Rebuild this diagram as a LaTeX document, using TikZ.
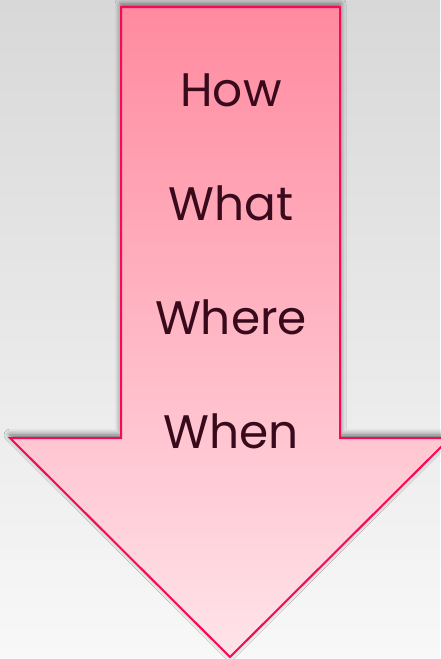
\documentclass[tikz,border=0pt]{standalone}
\usepackage{fontspec}
\setmainfont{Poppins}
\usetikzlibrary{shadows.blur}
\definecolor{bgtop}{HTML}{D8D8D8}
\definecolor{bgbottom}{HTML}{F8F8F8}
\definecolor{arrowline}{HTML}{F50A58}
\definecolor{arrowtop}{HTML}{FF8A9F}
\definecolor{arrowbottom}{HTML}{FFE4EA}
\definecolor{wordcol}{HTML}{380A1C}
\tikzset{
  downarrow/.style={draw=arrowline, line width=2pt, line join=miter,
    top color=arrowtop, bottom color=arrowbottom,
    blur shadow={shadow xshift=0pt, shadow yshift=3pt, shadow blur radius=6pt, shadow opacity=60}},
  word/.style={text=wordcol, anchor=base, font=\fontsize{47}{47}\selectfont},
}

\begin{document}
\begin{tikzpicture}[x=1pt,y=-1pt]
    % Background
    \useasboundingbox (0,0) rectangle (440,659);
    \fill[top color=bgtop, bottom color=bgbottom] (0,0) rectangle (440,659);

    % Define the corners of the arrow
    \coordinate (S1) at (121,7);
    \coordinate (S2) at (340,7);
    \coordinate (S3) at (340,438);
    \coordinate (H1) at (450,438);
    \coordinate (T) at (230,657);
    \coordinate (H2) at (10,438);
    \coordinate (S4) at (121,438);

    % Draw the arrow
    \draw[downarrow] (S1) -- (S2) -- (S3) -- (H1) -- (T) -- (H2) -- (S4) -- cycle;

    % Label the words
    \node[word] (how) at (231,106) {How};
    \node[word] (what) at (231,220) {What};
    \node[word] (where) at (231,334) {Where};
    \node[word] (when) at (231,448) {When};
  \end{tikzpicture}
\end{document}
